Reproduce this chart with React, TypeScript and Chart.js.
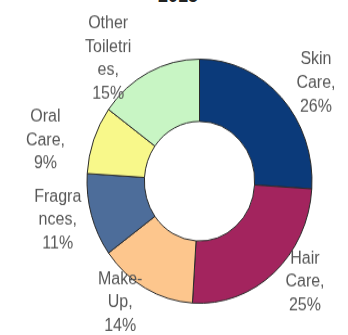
import React, { useEffect, useRef } from 'react';
import { Chart, registerables } from 'chart.js';

Chart.register(...registerables);

const titleText = '2015';
const categories = ['Skin Care', 'Hair Care', 'Make-Up', 'Fragrances', 'Oral Care', 'Other Toiletries'];
const shares = [26, 25, 14, 11, 9, 15];
const labelLines = [
  ['Skin', 'Care,'],
  ['Hair', 'Care,'],
  ['Make-', 'Up,'],
  ['Fragra', 'nces,'],
  ['Oral', 'Care,'],
  ['Other', 'Toiletri', 'es,'],
];
const colors = ['#0b3a7a', '#a3245e', '#fdc68d', '#4d6d9a', '#f8f88a', '#c8f5c4'];

const outsideLabels = {
  id: 'outsideLabels',
  afterDatasetsDraw(chart: any, _args: any, opts: any) {
    const ctx = chart.ctx;
    const meta = chart.getDatasetMeta(0);
    ctx.save();
    ctx.font = opts.font;
    ctx.fillStyle = opts.color;
    ctx.textAlign = 'center';
    ctx.textBaseline = 'middle';
    meta.data.forEach((arc: any, i: number) => {
      const { x, y, startAngle, endAngle, outerRadius } = arc.getProps(
        ['x', 'y', 'startAngle', 'endAngle', 'outerRadius'],
        true
      );
      const p = opts.place[i];
      const a = (startAngle + endAngle) / 2 + (p[1] * Math.PI) / 180;
      const r = outerRadius * p[0];
      const cx = x + r * Math.cos(a);
      const cy = y + r * Math.sin(a);
      const lines = [...labelLines[i], shares[i] + '%'];
      const lh = opts.lineHeight;
      lines.forEach((t: string, k: number) => {
        ctx.fillText(t, cx, cy + (k - (lines.length - 1) / 2) * lh);
      });
    });
    ctx.restore();
  },
};

export default function App() {
  const ref = useRef<HTMLCanvasElement | null>(null);

  useEffect(() => {
    if (!ref.current) return;
    const chart = new Chart(ref.current, {
      type: 'doughnut',
      data: {
        labels: categories,
        datasets: [
          {
            data: shares,
            backgroundColor: colors,
            borderColor: '#2a2a2a',
            borderWidth: 1,
          },
        ],
      },
      options: {
        responsive: false,
        animation: false,
        devicePixelRatio: 1,
        cutout: '49%',
        radius: 112.5,
        layout: { padding: { left: 51, right: 0, top: 0, bottom: 0 } },
        plugins: {
          legend: { display: false },
          tooltip: { enabled: false },
          title: { display: false },
          outsideLabels: {
            font: "16px 'Liberation Sans', Arial, sans-serif",
            color: '#575757',
            lineHeight: 21.7,
            place: [
              [1.31, 5.4],
              [1.25, -7.2],
              [1.22, 6.5],
              [1.3, 2],
              [1.41, -6],
              [1.29, -12],
            ],
          },
        } as any,
      },
      plugins: [outsideLabels],
    } as any);
    return () => chart.destroy();
  }, []);

  return (
    <div
      style={{
        position: 'absolute',
        left: 0,
        top: 0,
        width: 348,
        height: 335,
        overflow: 'hidden',
        background: '#ffffff',
      }}
    >
      <div
        style={{
          position: 'absolute',
          left: 0,
          top: -14,
          width: 356,
          textAlign: 'center',
          font: "bold 18px 'Liberation Sans', Arial, sans-serif",
          lineHeight: '20px',
          color: '#222222',
        }}
      >
        {titleText}
      </div>
      <div
        style={{
          position: 'absolute',
          left: 0,
          top: 0,
          transform: 'scaleY(1.085)',
          transformOrigin: 'top left',
        }}
      >
        <canvas ref={ref} width={348} height={334} />
      </div>
    </div>
  );
}
